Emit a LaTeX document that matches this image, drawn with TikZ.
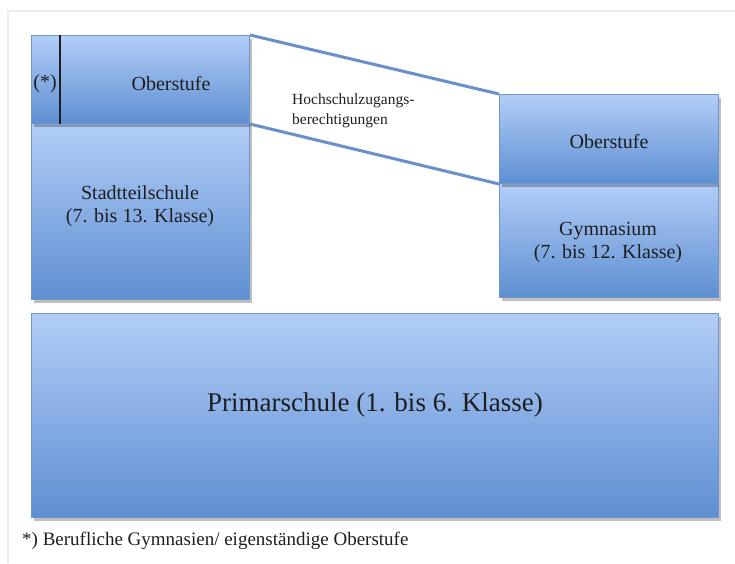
\documentclass[tikz,border=0pt]{standalone}
\usepackage{fontspec}
\setmainfont{Liberation Serif}
\usetikzlibrary{shadows}
\definecolor{boxtop}{HTML}{B2CDF7}
\definecolor{boxbot}{HTML}{5E8FD2}
\definecolor{boxline}{HTML}{6E96CE}
\definecolor{linkcol}{HTML}{6890CA}
\definecolor{framegray}{HTML}{ECECEC}
\definecolor{txt}{HTML}{1E1E1E}
\begin{document}
\begin{tikzpicture}[x=1pt,y=-1pt,
  schoolbox/.style={draw=boxline, line width=1pt, top color=boxtop, bottom color=boxbot,
    drop shadow={shadow xshift=2pt, shadow yshift=-3pt, fill=black, opacity=0.25},
    inner sep=0pt, anchor=north west},
  boxtext/.style={text=txt, align=center, inner sep=0pt, font=\fontsize{20}{23}\selectfont},
  link/.style={draw=linkcol, line width=3pt},
]
\useasboundingbox (0,0) rectangle (735,563);
\draw[framegray, line width=2pt] (8,563) -- (8,11) -- (735,11);

% left column
\node[schoolbox, minimum width=218pt, minimum height=176pt] (stadt) at (31,123) {};
\node[schoolbox, minimum width=218pt, minimum height=88pt] (ober1) at (31,35) {};
\draw[txt, line width=1.3pt] ([xshift=29pt]ober1.north west) coordinate (d1) -- ([xshift=29pt]ober1.south west) coordinate (d2);
\node[boxtext] (star) at (45,84) {(*)};
\node[boxtext] (ober1t) at (171,84) {Oberstufe};
\node[boxtext] (stadtt) at (140,206) {Stadtteilschule\\(7. bis 13. Klasse)};

% right column
\node[schoolbox, minimum width=219pt, minimum height=114pt] (gym) at (499,183) {};
\node[schoolbox, minimum width=219pt, minimum height=89pt] (ober2) at (499,94) {};
\node[boxtext] (ober2t) at (609,142) {Oberstufe};
\node[boxtext] (gymt) at (608,242) {Gymnasium\\(7. bis 12. Klasse)};

% connectors
\draw[link] (ober1.north east) -- (ober2.north west);
\draw[link] (ober1.south east) -- (ober2.south west);
\node[text=txt, align=left, anchor=west, inner sep=0pt, font=\fontsize{15.5}{20}\selectfont] (hzb) at (292,111) {Hochschulzugangs-\\berechtigungen};

% primary
\node[schoolbox, minimum width=687pt, minimum height=204pt] (prim) at (31,313) {};
\node[boxtext, font=\fontsize{27}{30}\selectfont] (primt) at (375,405) {Primarschule (1. bis 6. Klasse)};

% footnote
\node[text=txt, anchor=west, inner sep=0pt, font=\fontsize{19}{22}\selectfont] (foot) at (22,541) {*) Berufliche Gymnasien/ eigenständige Oberstufe};
\end{tikzpicture}
\end{document}
